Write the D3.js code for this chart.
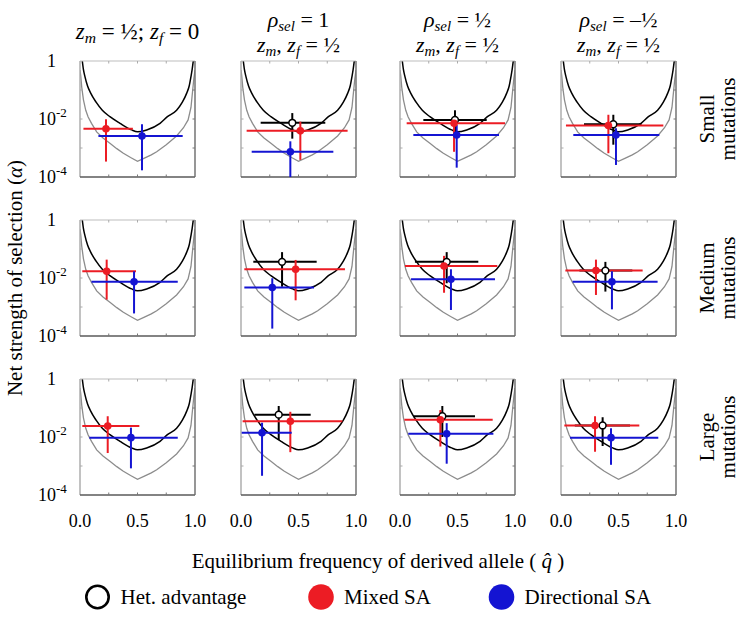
<!DOCTYPE html>
<html><head><meta charset="utf-8">
<script src="https://cdn.jsdelivr.net/npm/d3@7"></script>
<style>
body{margin:0;background:#fff}
svg, svg text{font-family:"Liberation Serif","Tinos","Times New Roman","DejaVu Serif",serif}
</style>
</head><body>
<svg id="chart" width="740" height="619" font-family="Liberation Serif, Tinos, Times New Roman, DejaVu Serif, serif"></svg>
<script>
// ---------------- DATA ----------------
const rowNames = ["Small", "Medium", "Large"];
const rowSub = "mutations";
const xTickVals = [0, 0.5, 1];
const xTickLabels = ["0.0", "0.5", "1.0"];
const yTickVals = [1, 1e-2, 1e-4];
const yTickBase = ["1", "10", "10"];
const yTickExp = ["", "-2", "-4"];
const legendLabels = ["Het. advantage", "Mixed SA", "Directional SA"];
const xTitle = "Equilibrium frequency of derived allele (";
const yTitle = "Net strength of selection (";

// black threshold curve (q, alpha)
const threshQ = [0.02, 0.03, 0.043, 0.065, 0.093, 0.14, 0.194, 0.26, 0.348, 0.449, 0.5, 0.58, 0.696, 0.76, 0.84, 0.89, 0.928, 0.95, 0.965, 0.975, 0.985];
const threshA = [1.0, 0.5, 0.29, 0.14, 0.078, 0.038, 0.020, 0.012, 0.0071, 0.0042, 0.0036, 0.0042, 0.0071, 0.012, 0.020, 0.038, 0.078, 0.14, 0.29, 0.5, 1.0];
// grey drift curve (q, alpha)
const driftQ = [0, 0.006, 0.015, 0.03, 0.05, 0.07, 0.1, 0.145, 0.2, 0.26, 0.32, 0.377, 0.44, 0.5, 0.56, 0.62, 0.667, 0.75, 0.84, 0.9, 0.94, 0.965, 0.98, 0.99, 1.0];
const driftA = [0.49, 0.32, 0.126, 0.046, 0.020, 0.012, 0.0071, 0.0036, 0.0022, 0.00145, 0.00095, 0.00066, 0.00047, 0.00035, 0.00045, 0.00058, 0.00074, 0.0013, 0.0026, 0.005, 0.0093, 0.025, 0.1, 0.25, 0.49];

// each entry: [q, qLow, qHigh, alpha, alphaHigh, alphaLow]; rows = mutation size, cols = scenario
const hetAdvantage = [
  [null, [0.446, 0.171, 0.733, 0.0074, 0.016, 0.0021], [0.478, 0.203, 0.754, 0.0093, 0.020, 0.0036], [0.455, 0.20, 0.70, 0.0066, 0.014, 0.0013]],
  [null, [0.357, 0.107, 0.658, 0.036, 0.078, 0.0050], [0.406, 0.13, 0.681, 0.036, 0.078, 0.0066], [0.386, 0.16, 0.62, 0.018, 0.036, 0.0034]],
  [null, [0.328, 0.116, 0.606, 0.059, 0.117, 0.0079], [0.368, 0.116, 0.652, 0.052, 0.117, 0.010], [0.362, 0.12, 0.60, 0.025, 0.048, 0.0049]]
];
const mixedSA = [
  [[0.226, 0.03, 0.46, 0.0046, 0.0098, 0.00034], [0.516, 0.049, 0.927, 0.0039, 0.0081, 0.00039], [0.47, 0.058, 0.913, 0.0071, 0.012, 0.00074], [0.412, 0.043, 0.89, 0.0060, 0.014, 0.00066]],
  [[0.232, 0.02, 0.487, 0.017, 0.043, 0.0018], [0.475, 0.029, 0.904, 0.020, 0.042, 0.0017], [0.383, 0.043, 0.846, 0.026, 0.058, 0.0031], [0.304, 0.038, 0.71, 0.018, 0.043, 0.0026]],
  [[0.241, 0.02, 0.516, 0.024, 0.052, 0.0028], [0.429, 0.014, 0.881, 0.035, 0.074, 0.0030], [0.351, 0.038, 0.806, 0.039, 0.085, 0.0047], [0.296, 0.029, 0.681, 0.025, 0.052, 0.0031]]
];
const directionalSA = [
  [[0.539, 0.16, 0.893, 0.0026, 0.0066, 0.00017], [0.429, 0.093, 0.803, 0.00074, 0.0017, 0.0001], [0.493, 0.116, 0.861, 0.0028, 0.0062, 0.00021], [0.478, 0.107, 0.855, 0.0028, 0.0048, 0.00026]],
  [[0.47, 0.10, 0.85, 0.0074, 0.017, 0.0006], [0.272, 0.029, 0.635, 0.0047, 0.0098, 0.00018], [0.443, 0.096, 0.826, 0.0091, 0.020, 0.00079], [0.443, 0.101, 0.84, 0.0074, 0.017, 0.00083]],
  [[0.443, 0.081, 0.85, 0.0095, 0.021, 0.00083], [0.183, 0.006, 0.441, 0.014, 0.031, 0.00046], [0.406, 0.072, 0.812, 0.013, 0.030, 0.0012], [0.435, 0.078, 0.846, 0.0095, 0.020, 0.0011]]
];

// column headers as styled segments
const headers = [
  [[{t:"z",i:1},{t:"m",i:1,s:1},{t:" = ½; "},{t:"z",i:1},{t:"f",i:1,s:1},{t:" = 0"}]],
  [[{t:"ρ",i:1},{t:"sel",i:1,s:1},{t:" = 1"}], [{t:"z",i:1},{t:"m",i:1,s:1},{t:", "},{t:"z",i:1},{t:"f",i:1,s:1},{t:" = ½"}]],
  [[{t:"ρ",i:1},{t:"sel",i:1,s:1},{t:" = ½"}], [{t:"z",i:1},{t:"m",i:1,s:1},{t:", "},{t:"z",i:1},{t:"f",i:1,s:1},{t:" = ½"}]],
  [[{t:"ρ",i:1},{t:"sel",i:1,s:1},{t:" = –½"}], [{t:"z",i:1},{t:"m",i:1,s:1},{t:", "},{t:"z",i:1},{t:"f",i:1,s:1},{t:" = ½"}]]
];

// ---------------- LAYOUT ----------------
const FONT = '"Liberation Serif", Tinos, "Times New Roman", "DejaVu Serif", serif';
const colX = [80, 241, 400, 561];
const rowY = [61, 220, 379];
const pw = 115, ph = 116;
const RED = "#ec1c24", BLUE = "#1414d2", BLACK = "#000";

const svg = d3.select("#chart");
const x = d3.scaleLinear().domain([0, 1]).range([0, pw]);
const y = d3.scaleLog().domain([1e-4, 1]).range([ph, 0]);

const defs = svg.append("defs");
defs.append("clipPath").attr("id", "pclip").append("rect")
  .attr("x", 0).attr("y", 0).attr("width", pw).attr("height", ph);

const lineGen = d3.line().x(d => x(d[0])).y(d => y(d[1]));
const threshPts = threshQ.map((q, i) => [q, threshA[i]]);
const driftPts = driftQ.map((q, i) => [q, driftA[i]]);

const series = [
  {data: hetAdvantage, color: BLACK, open: true},
  {data: mixedSA, color: RED},
  {data: directionalSA, color: BLUE}
];

function txt(sel) { return sel.append("text").attr("font-family", FONT); }

for (let r = 0; r < 3; r++) {
  for (let c = 0; c < 4; c++) {
    const g = svg.append("g").attr("transform", `translate(${colX[c]},${rowY[r]})`);
    const inner = g.append("g").attr("clip-path", "url(#pclip)");
    inner.append("path").datum(driftPts).attr("d", lineGen.curve(d3.curveLinear))
      .attr("fill", "none").attr("stroke", "#8c8c8c").attr("stroke-width", 1.3);
    inner.append("path").datum(threshPts).attr("d", lineGen.curve(d3.curveMonotoneX))
      .attr("fill", "none").attr("stroke", "#000").attr("stroke-width", 1.5);

    // frame
    g.append("line").attr("x1", 0).attr("x2", pw).attr("y1", 0).attr("y2", 0).attr("stroke", "#bdbdbd").attr("stroke-width", 1.2);
    g.append("line").attr("x1", 0).attr("x2", 0).attr("y1", 0).attr("y2", ph).attr("stroke", "#a8a8a8").attr("stroke-width", 1.4);
    g.append("line").attr("x1", 0).attr("x2", pw).attr("y1", ph).attr("y2", ph).attr("stroke", "#5a5a5a").attr("stroke-width", 1.4);
    g.append("line").attr("x1", pw).attr("x2", pw).attr("y1", 0).attr("y2", ph).attr("stroke", "#6a6a6a").attr("stroke-width", 1.4);
    // inward ticks
    [0.25, 0.5, 0.75].forEach(q => {
      g.append("line").attr("x1", x(q)).attr("x2", x(q)).attr("y1", 0).attr("y2", 2.5).attr("stroke", "#aaa");
      g.append("line").attr("x1", x(q)).attr("x2", x(q)).attr("y1", ph).attr("y2", ph - 2.5).attr("stroke", "#777");
    });
    [1e-1, 1e-2, 1e-3].forEach(a => {
      g.append("line").attr("x1", 0).attr("x2", 2.5).attr("y1", y(a)).attr("y2", y(a)).attr("stroke", "#aaa");
      g.append("line").attr("x1", pw).attr("x2", pw - 2.5).attr("y1", y(a)).attr("y2", y(a)).attr("stroke", "#777");
    });

    // error bars
    const marks = g.append("g").attr("clip-path", "url(#pclip)");
    series.forEach(s => {
      const d = s.data[r][c];
      if (!d) return;
      marks.append("line").attr("x1", x(d[1])).attr("x2", x(d[2])).attr("y1", y(d[3])).attr("y2", y(d[3]))
        .attr("stroke", s.color).attr("stroke-width", 2);
      marks.append("line").attr("x1", x(d[0])).attr("x2", x(d[0])).attr("y1", y(d[4])).attr("y2", y(d[5]))
        .attr("stroke", s.color).attr("stroke-width", 2);
    });
    series.forEach(s => {
      const d = s.data[r][c];
      if (!d) return;
      g.append("circle").attr("cx", x(d[0])).attr("cy", y(d[3])).attr("r", s.open ? 3.4 : 3.8)
        .attr("fill", s.open ? "#fff" : s.color).attr("stroke", s.open ? "#000" : "none").attr("stroke-width", 1.5);
    });

    // y tick labels (first column)
    if (c === 0) {
      yTickVals.forEach((v, i) => {
        txt(g).attr("x", -24).attr("y", y(v)).attr("dy", "0.35em").attr("text-anchor", "end")
          .attr("font-size", 18).text(yTickBase[i]);
        if (yTickExp[i]) txt(g).attr("x", -24).attr("y", y(v) - 2).attr("font-size", 13).text(yTickExp[i]);
      });
    }
    // x tick labels (last row)
    if (r === 2) {
      xTickVals.forEach((v, i) => {
        txt(g).attr("x", x(v)).attr("y", ph + 32).attr("text-anchor", "middle")
          .attr("font-size", 18).text(xTickLabels[i]);
      });
    }
  }
  // row labels
  const cy = rowY[r] + ph / 2;
  txt(svg).attr("transform", `translate(714,${cy}) rotate(-90)`).attr("text-anchor", "middle")
    .attr("font-size", 21).text(rowNames[r]);
  txt(svg).attr("transform", `translate(735,${cy}) rotate(-90)`).attr("text-anchor", "middle")
    .attr("font-size", 21).text(rowSub);
}

// column headers
function segText(sel, segs, size) {
  let shifted = false;
  segs.forEach(sg => {
    const t = sel.append("tspan").text(sg.t).attr("font-style", sg.i ? "italic" : "normal")
      .attr("font-size", sg.s ? size * 0.68 : size);
    if (sg.s && !shifted) { t.attr("dy", 4); shifted = true; }
    else if (!sg.s && shifted) { t.attr("dy", -4); shifted = false; }
  });
}
headers.forEach((lines, c) => {
  const cx = colX[c] + pw / 2;
  if (lines.length === 1) {
    const t = txt(svg).attr("x", cx).attr("y", 39).attr("text-anchor", "middle");
    segText(t, lines[0], 23);
  } else {
    lines.forEach((ln, k) => {
      const t = txt(svg).attr("x", cx).attr("y", k === 0 ? 27 : 52).attr("text-anchor", "middle");
      segText(t, ln, 22);
    });
  }
});

// axis titles
const xt = txt(svg).attr("x", (colX[0] + colX[3] + pw) / 2).attr("y", 568)
  .attr("text-anchor", "middle").attr("font-size", 21);
xt.append("tspan").text(xTitle + " ");
xt.append("tspan").attr("font-style", "italic").text("q\u0302");
xt.append("tspan").text(" )");

const yt = txt(svg).attr("transform", `translate(22,${(rowY[0] + rowY[2] + ph) / 2}) rotate(-90)`)
  .attr("text-anchor", "middle").attr("font-size", 21);
yt.append("tspan").text(yTitle);
yt.append("tspan").attr("font-style", "italic").text("α");
yt.append("tspan").text(")");

// legend
const legX = [97.5, 321, 501.5];
const legY = 597;
const legColors = [BLACK, RED, BLUE];
legendLabels.forEach((lab, i) => {
  if (i === 0) {
    svg.append("circle").attr("cx", legX[i]).attr("cy", legY).attr("r", 11.2)
      .attr("fill", "#fff").attr("stroke", "#000").attr("stroke-width", 2.6);
  } else {
    svg.append("circle").attr("cx", legX[i]).attr("cy", legY).attr("r", 12.8).attr("fill", legColors[i]);
  }
  txt(svg).attr("x", legX[i] + 23).attr("y", legY).attr("dy", "0.33em")
    .attr("font-size", 21).text(lab);
});
</script>
</body></html>
